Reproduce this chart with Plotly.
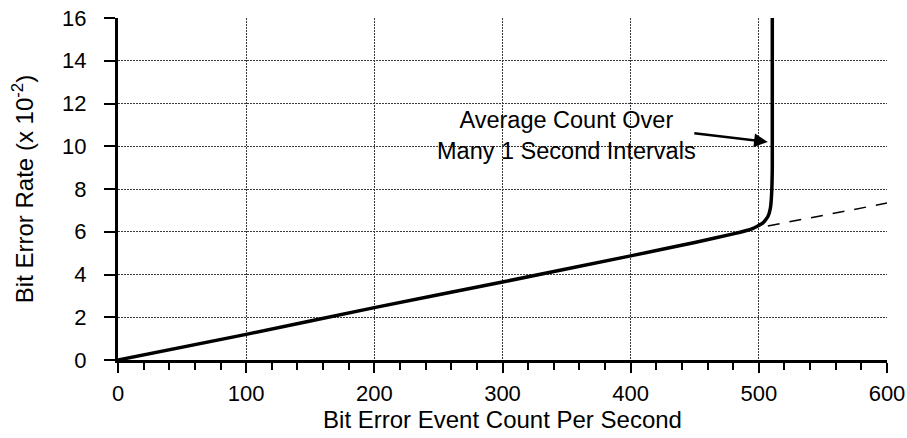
import plotly.graph_objects as go

# Measured bit error rate (x 10^-2) versus error event count per second
count = [0, 100, 200, 300, 400, 450, 480, 495, 503, 507, 509, 510, 510.5, 510.5]
rate = [0, 1.2, 2.45, 3.65, 4.87, 5.5, 5.9, 6.15, 6.4, 6.7, 7.1, 7.8, 9, 16]

# Linear trend continued past the knee
trend_count = [507, 600]
trend_rate = [6.27, 7.34]

x_ticks = [0, 100, 200, 300, 400, 500, 600]
y_ticks = [0, 2, 4, 6, 8, 10, 12, 14, 16]

FONT = "Liberation Sans, Arial, Helvetica, sans-serif"

fig = go.Figure()

fig.add_trace(go.Scatter(
    x=trend_count, y=trend_rate, mode="lines",
    line=dict(color="black", width=1.5, dash="12px,10px"),
    hoverinfo="skip", showlegend=False,
))
fig.add_trace(go.Scatter(
    x=count, y=rate, mode="lines",
    line=dict(color="black", width=3.5, shape="spline", smoothing=0.4),
    showlegend=False,
))

fig.add_annotation(
    x=350, y=10.5, xref="x", yref="y",
    text="Average Count Over<br>Many 1 Second Intervals",
    showarrow=False, font=dict(family=FONT, size=23.5, color="black"),
    align="center",
)
fig.add_annotation(
    x=507, y=10.2, xref="x", yref="y",
    ax=-75, ay=-9, axref="pixel", ayref="pixel",
    text="", showarrow=True, arrowhead=2, arrowsize=1.1,
    arrowwidth=2.5, arrowcolor="black", standoff=0,
)

grid = dict(showgrid=True, gridcolor="#3a3a3a", gridwidth=1, griddash="2px,1px")

fig.update_layout(
    width=907, height=438,
    margin=dict(l=118, r=20, t=18, b=78),
    paper_bgcolor="white", plot_bgcolor="white",
    font=dict(family=FONT, size=22, color="black"),
    xaxis=dict(
        range=[0, 600], tickvals=x_ticks, ticks="outside", ticklen=10,
        tickwidth=2, tickcolor="black", showline=True, linewidth=3,
        linecolor="black", zeroline=False, automargin=False,
        ticklabelstandoff=2,
        minor=dict(dtick=20, ticks="outside", ticklen=7, tickwidth=2,
                   tickcolor="black", showgrid=False),
        title=dict(text="Bit Error Event Count Per Second",
                   font=dict(size=24), standoff=5),
        **grid,
    ),
    yaxis=dict(
        range=[0, 16], tickvals=y_ticks, ticks="outside", ticklen=11,
        tickwidth=2, tickcolor="black", showline=True, linewidth=3,
        linecolor="black", zeroline=False, ticklabelstandoff=13,
        automargin=False,
        title=dict(text="Bit Error Rate (x 10<sup>-2</sup>)",
                   font=dict(size=24), standoff=22),
        **grid,
    ),
)

fig.write_html("out.html")
